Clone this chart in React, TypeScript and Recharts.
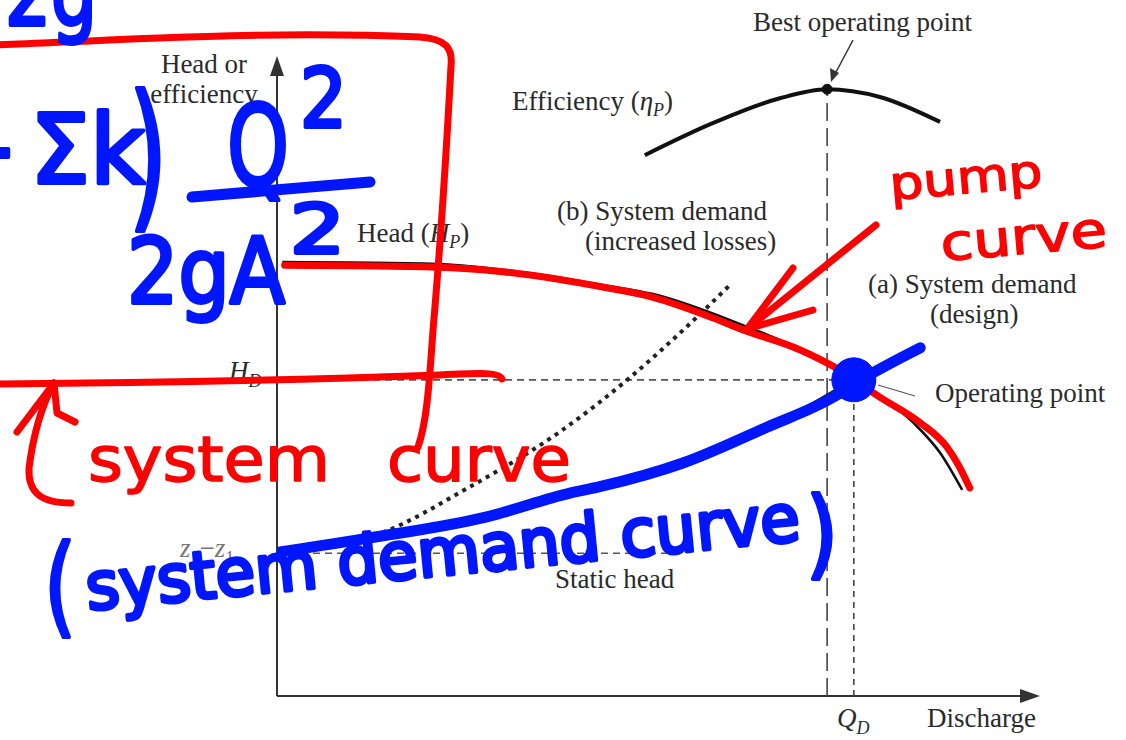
import React from "react";
import {
  ComposedChart,
  Line,
  XAxis,
  YAxis,
  ReferenceLine,
  ReferenceDot,
} from "recharts";

// Discharge Q and head H in plot units (0–100 on both axes)
const pumpHead = [
  { q: 0.7, h: 67.8 },
  { q: 21.0, h: 67.5 },
  { q: 29.6, h: 66.6 },
  { q: 42.7, h: 64.2 },
  { q: 49.3, h: 62.8 },
  { q: 60.3, h: 58.3 },
  { q: 68.5, h: 54.2 },
  { q: 75.6, h: 49.4 },
  { q: 83.4, h: 42.7 },
  { q: 86.9, h: 38.0 },
  { q: 89.8, h: 32.2 },
];

const efficiency = [
  { q: 48.2, h: 84.5 },
  { q: 57.1, h: 89.5 },
  { q: 65.9, h: 93.4 },
  { q: 72.1, h: 94.8 },
  { q: 79.0, h: 93.6 },
  { q: 86.9, h: 89.7 },
];

const demandDesign = [
  { q: 0, h: 22.3 },
  { q: 20, h: 26.2 },
  { q: 40, h: 32.1 },
  { q: 52, h: 36.0 },
  { q: 65, h: 42.4 },
  { q: 75.6, h: 49.4 },
  { q: 84.6, h: 55.0 },
];

const demandLosses = [
  { q: 0, h: 22.3 },
  { q: 13.1, h: 25.2 },
  { q: 25.3, h: 32.7 },
  { q: 37.1, h: 41.3 },
  { q: 45.9, h: 49.4 },
  { q: 53.7, h: 57.7 },
  { q: 59.6, h: 64.5 },
];

// marker ink traced over the pump and system curves
const pumpInk = [
  { q: 1.0, h: 67.3 },
  { q: 21.0, h: 67.0 },
  { q: 29.6, h: 66.3 },
  { q: 42.7, h: 63.9 },
  { q: 49.3, h: 62.3 },
  { q: 57.1, h: 59.1 },
  { q: 61.1, h: 57.2 },
  { q: 68.5, h: 54.1 },
  { q: 73.8, h: 50.9 },
  { q: 79.0, h: 46.7 },
  { q: 84.3, h: 42.7 },
  { q: 87.8, h: 38.9 },
  { q: 89.3, h: 36.1 },
  { q: 90.8, h: 32.5 },
];

const systemInk = [
  { q: 0.4, h: 22.5 },
  { q: 12.2, h: 24.7 },
  { q: 27.5, h: 28.0 },
  { q: 38.4, h: 31.7 },
  { q: 42.3, h: 32.7 },
  { q: 53.2, h: 36.4 },
  { q: 64.2, h: 42.0 },
  { q: 72.9, h: 46.7 },
  { q: 75.8, h: 48.9 },
  { q: 84.3, h: 54.4 },
];

const Q_D = 75.6;
const H_D = 49.4;
const Q_BEST = 72.1;
const ETA_BEST = 94.8;
const STATIC_HEAD = 22.3;
const STATIC_END = 53.2;

const RED = "#ff0000";
const BLUE = "#0016ff";
const INK = "#2a2a2a";
const SERIF = "'Liberation Serif', 'Times New Roman', serif";
const HAND = "'DejaVu Sans', sans-serif";

const ArrowUp = (p: any) => (
  <path d={`M${p.cx},${p.cy} l-7,20 l14,0 z`} fill="#333" />
);
const ArrowRight = (p: any) => (
  <path d={`M${p.cx},${p.cy} l-20,-7 l0,14 z`} fill="#333" />
);

function Labels() {
  const t = { fontFamily: SERIF, fontSize: 27, fill: INK } as const;
  return (
    <svg
      width={1126}
      height={740}
      style={{ position: "absolute", left: 0, top: 0, pointerEvents: "none" }}
    >
      <text {...t} x={753} y={31}>Best operating point</text>
      <line x1={853} y1={40} x2={835} y2={74} stroke="#333" strokeWidth={1.5} />
      <path d="M831,82 L830,68 L839,73 Z" fill="#333" />
      <text {...t} x={512} y={110}>
        Efficiency (<tspan fontStyle="italic">η</tspan>
        <tspan fontStyle="italic" fontSize={18} dy={6}>P</tspan>
        <tspan dy={-6}>)</tspan>
      </text>
      <text {...t} x={204} y={73} textAnchor="middle">Head or</text>
      <text {...t} x={204} y={103} textAnchor="middle">efficiency</text>
      <text {...t} x={357} y={242}>
        Head (<tspan fontStyle="italic">H</tspan>
        <tspan fontStyle="italic" fontSize={18} dy={6}>P</tspan>
        <tspan dy={-6}>)</tspan>
      </text>
      <text {...t} x={557} y={220}>(b) System demand</text>
      <text {...t} x={585} y={250}>(increased losses)</text>
      <text {...t} x={868} y={293}>(a) System demand</text>
      <text {...t} x={930} y={323}>(design)</text>
      <text {...t} x={935} y={402}>Operating point</text>
      <line x1={878} y1={385} x2={915} y2={396} stroke="#555" strokeWidth={1.3} />
      <text {...t} x={229} y={380} fontStyle="italic">
        H<tspan fontSize={18} dy={7}>D</tspan>
      </text>
      <text {...t} x={180} y={557} fill="#777" fontStyle="italic">
        z<tspan fontSize={18} dy={7}>2</tspan>
        <tspan dy={-7} fontStyle="normal">−</tspan>
        <tspan>z</tspan>
        <tspan fontSize={18} dy={7} fontStyle="normal">1</tspan>
      </text>
      <text {...t} x={555} y={588}>Static head</text>
      <text {...t} x={837} y={727} fontStyle="italic">
        Q<tspan fontSize={18} dy={7}>D</tspan>
      </text>
      <text {...t} x={927} y={727}>Discharge</text>
    </svg>
  );
}

function Ink() {
  const red = {
    fill: "none",
    stroke: RED,
    strokeWidth: 7,
    strokeLinecap: "round",
    strokeLinejoin: "round",
  } as const;
  const blue = {
    fill: "none",
    stroke: BLUE,
    strokeWidth: 11,
    strokeLinecap: "round",
    strokeLinejoin: "round",
  } as const;
  const redText = {
    fontFamily: HAND,
    fill: RED,
    stroke: RED,
    strokeWidth: 1.5,
    strokeLinejoin: "round",
    lengthAdjust: "spacingAndGlyphs",
  } as const;
  const blueText = {
    fontFamily: HAND,
    fill: BLUE,
    stroke: BLUE,
    strokeWidth: 4,
    strokeLinejoin: "round",
    lengthAdjust: "spacingAndGlyphs",
  } as const;
  return (
    <svg
      width={1126}
      height={740}
      style={{ position: "absolute", left: 0, top: 0, pointerEvents: "none" }}
    >
      {/* red notes */}
      <path
        {...red}
        d="M-5,45 C100,41 260,30 420,37 C446,39 453,48 451,66 C447,140 440,250 433,330 C429,390 426,425 418,447"
      />
      <path {...red} d="M-5,384 C150,383 300,380 440,375 C480,373 500,372 502,379" />
      <path
        {...red}
        d="M54,383 C42,405 33,437 29,468 C28,490 38,503 71,503"
      />
      <path {...red} d="M17,432 L54,383 L57,413 L75,422" />
      <text {...redText} x={88} y={481} fontSize={62} textLength={242}>system</text>
      <text {...redText} x={387} y={481} fontSize={62} textLength={184}>curve</text>
      <text
        {...redText}
        x={891}
        y={200}
        fontSize={46}
        textLength={153}
        transform="rotate(-5 891 200)"
      >
        pump
      </text>
      <text
        {...redText}
        x={942}
        y={261}
        fontSize={50}
        textLength={167}
        transform="rotate(-5 942 261)"
      >
        curve
      </text>
      <path {...red} d="M876,225 L747,329" />
      <path {...red} d="M793,268 L747,329 L813,310" />

      {/* blue notes */}
      <text {...blueText} x={5} y={25} fontSize={90} textLength={92}>2g</text>
      <text {...blueText} x={-62} y={183} fontSize={96}>+</text>
      <text {...blueText} x={30} y={183} fontSize={96} textLength={115}>Σk</text>
      <text {...blueText} x={128} y={210} fontSize={160} textLength={40}>)</text>
      <text {...blueText} x={227} y={186} fontSize={112} textLength={62}>Q</text>
      <text {...blueText} x={300} y={127} fontSize={82} textLength={47}>2</text>
      <path {...blue} d="M192,197 L370,182" />
      <text {...blueText} x={127} y={303} fontSize={90} textLength={158}>2gA</text>
      <text {...blueText} x={290} y={253} fontSize={68} textLength={55}>2</text>
      <text {...blueText} x={44} y={623} fontSize={108} textLength={32}>(</text>
      <text
        {...blueText}
        x={88}
        y={610}
        fontSize={66}
        textLength={717}
        transform="rotate(-5.6 88 610)"
      >
        system demand curve
      </text>
      <text {...blueText} x={806} y={566} fontSize={97} textLength={32}>)</text>
    </svg>
  );
}

export default function App() {
  return (
    <div
      style={{
        position: "absolute",
        left: 0,
        top: 0,
        width: 1126,
        height: 740,
        background: "#fff",
        overflow: "hidden",
      }}
    >
      <ComposedChart
        width={1126}
        height={740}
        margin={{ top: 56, right: 86, bottom: 44, left: 277 }}
      >
        <XAxis type="number" dataKey="q" domain={[0, 100]} hide allowDataOverflow />
        <YAxis type="number" dataKey="h" domain={[0, 100]} hide allowDataOverflow />

        {/* axes */}
        <ReferenceLine
          segment={[{ x: 0, y: 0 }, { x: 0, y: 97 }]}
          stroke="#333"
          strokeWidth={2}
        />
        <ReferenceLine
          segment={[{ x: 0, y: 0 }, { x: 98, y: 0 }]}
          stroke="#333"
          strokeWidth={2}
        />
        <ReferenceDot x={0} y={100} r={1} shape={ArrowUp} />
        <ReferenceDot x={100} y={0} r={1} shape={ArrowRight} />

        {/* guide lines */}
        <ReferenceLine
          segment={[{ x: 0, y: H_D }, { x: Q_D, y: H_D }]}
          stroke="#555"
          strokeWidth={1.6}
          strokeDasharray="7 5"
        />
        <ReferenceLine
          segment={[{ x: 0, y: STATIC_HEAD }, { x: STATIC_END, y: STATIC_HEAD }]}
          stroke="#555"
          strokeWidth={1.6}
          strokeDasharray="7 5"
        />
        <ReferenceLine
          segment={[{ x: Q_BEST, y: 0 }, { x: Q_BEST, y: ETA_BEST }]}
          stroke="#444"
          strokeWidth={1.6}
          strokeDasharray="18 7"
        />
        <ReferenceLine
          segment={[{ x: Q_D, y: 0 }, { x: Q_D, y: H_D }]}
          stroke="#444"
          strokeWidth={1.6}
          strokeDasharray="6 5"
        />

        {/* curves */}
        <Line
          data={efficiency}
          dataKey="h"
          type="monotone"
          stroke="#111"
          strokeWidth={4}
          dot={false}
          isAnimationActive={false}
        />
        <Line
          data={pumpHead}
          dataKey="h"
          type="monotone"
          stroke="#111"
          strokeWidth={2.5}
          dot={false}
          isAnimationActive={false}
        />
        <Line
          data={demandDesign}
          dataKey="h"
          type="monotone"
          stroke="#111"
          strokeWidth={2.5}
          dot={false}
          isAnimationActive={false}
        />
        <Line
          data={demandLosses}
          dataKey="h"
          type="monotone"
          stroke="#222"
          strokeWidth={4}
          strokeDasharray="4 5"
          dot={false}
          isAnimationActive={false}
        />
        <ReferenceDot x={Q_BEST} y={ETA_BEST} r={5} fill="#111" stroke="#111" />

        {/* marker ink */}
        <Line
          data={pumpInk}
          dataKey="h"
          type="monotone"
          stroke={RED}
          strokeWidth={7}
          strokeLinecap="round"
          dot={false}
          isAnimationActive={false}
        />
        <Line
          data={systemInk}
          dataKey="h"
          type="monotone"
          stroke={BLUE}
          strokeWidth={11}
          strokeLinecap="round"
          dot={false}
          isAnimationActive={false}
        />
        <ReferenceDot x={Q_D} y={H_D} r={22} fill={BLUE} stroke={BLUE} />
      </ComposedChart>
      <Labels />
      <Ink />
    </div>
  );
}
